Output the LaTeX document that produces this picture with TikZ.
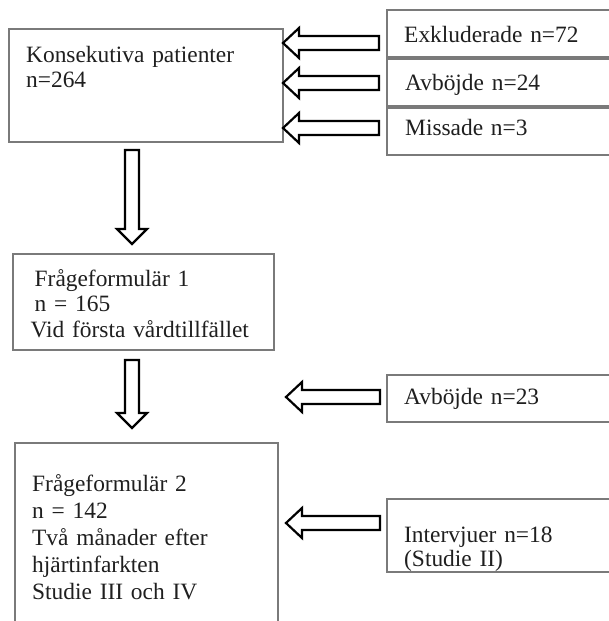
\documentclass[tikz,border=0pt]{standalone}
\usepackage{fontspec}
\setmainfont{Liberation Serif}
\usetikzlibrary{calc}
\begin{document}
\begin{tikzpicture}[x=1pt,y=-1pt,
  box/.style={draw=black!52, line width=1.2pt, inner sep=0pt, outer sep=0pt, anchor=north west},
  txt/.style={inner sep=0pt, anchor=base west, align=left, text width=260pt, text=black!88,
    font=\fontsize{23.4}{25.5}\selectfont},
  blockL/.style={draw=black, line width=2.2pt, fill=white, line join=miter,
    to path={let \p1=(\tikztostart), \p2=(\tikztotarget) in
      (\x1,\y1+7pt) -- (\x2+16pt,\y1+7pt) -- (\x2+16pt,\y1+15pt) -- (\x2,\y1)
      -- (\x2+16pt,\y1-15pt) -- (\x2+16pt,\y1-7pt) -- (\x1,\y1-7pt) -- cycle}},
  blockD/.style={draw=black, line width=2.2pt, fill=white, line join=miter,
    to path={let \p1=(\tikztostart), \p2=(\tikztotarget) in
      (\x1-7pt,\y1) -- (\x1-7pt,\y2+15pt) -- (\x1-15pt,\y2+15pt) -- (\x1,\y2)
      -- (\x1+15pt,\y2+15pt) -- (\x1+7pt,\y2+15pt) -- (\x1+7pt,\y1) -- cycle}}
]
\useasboundingbox[fill=white] (0,0) rectangle (608,621);

% left column boxes
\node[box, minimum width=274, minimum height=113] (b1) at (9,29) {};
\node[box, minimum width=261, minimum height=96] (b2) at (13,254) {};
\node[box, minimum width=263, minimum height=200] (b3) at (15,443) {};

% right column boxes
\node[box, minimum width=240, minimum height=47] (ex) at (387,10) {};
\node[box, minimum width=240, minimum height=47] (av1) at (387,59) {};
\node[box, minimum width=240, minimum height=47] (mi) at (387,108) {};
\node[box, minimum width=240, minimum height=47] (av2) at (387,375) {};
\node[box, minimum width=240, minimum height=73] (iv) at (387,499) {};

% texts
\node[txt, font=\fontsize{23.4}{25}\selectfont] (t1) at (26,62) {Konsekutiva patienter\\n=264};
\node[txt] (t2) at (30.5,286) {\hspace*{4pt}Frågeformulär 1\\\hspace*{4pt}n = 165\\Vid första vårdtillfället};
\node[txt, font=\fontsize{23.4}{27}\selectfont] (t3) at (32,491) {Frågeformulär 2\\n = 142\\Två månader efter\\hjärtinfarkten\\Studie III och IV};
\node[txt] (tex) at (404,42) {Exkluderade n=72};
\node[txt] (tav1) at (405,90) {Avböjde n=24};
\node[txt] (tmi) at (405,135) {Missade n=3};
\node[txt] (tav2) at (404,404) {Avböjde n=23};
\node[txt, font=\fontsize{23.4}{24}\selectfont] (tiv) at (404,542) {Intervjuer n=18\\(Studie II)};

% connectors
\coordinate (a1) at (379,43);
\coordinate (a2) at (379,83);
\coordinate (a3) at (379,128);
\draw[blockL] (a1) to (b1.east |- a1);
\draw[blockL] (a2) to (b1.east |- a2);
\draw[blockL] (a3) to (b1.east |- a3);

\coordinate (a4) at (380,397);
\coordinate (a4e) at (286,397);
\draw[blockL] (a4) to (a4e);
\coordinate (a5) at (380,523);
\coordinate (a5e) at (286,523);
\draw[blockL] (a5) to (a5e);

\coordinate (d1) at (132,150);
\coordinate (d1e) at (132,244);
\draw[blockD] (d1) to (d1e);
\coordinate (d2) at (132,360);
\coordinate (d2e) at (132,428);
\draw[blockD] (d2) to (d2e);
\end{tikzpicture}
\end{document}
